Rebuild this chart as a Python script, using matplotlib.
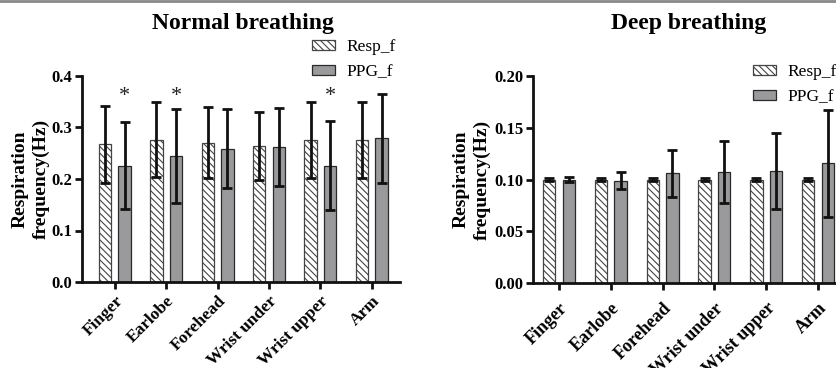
import matplotlib
matplotlib.use("Agg")
import matplotlib.pyplot as plt
import numpy as np
from matplotlib.lines import Line2D

categories = ["Finger", "Earlobe", "Forehead", "Wrist under", "Wrist upper", "Arm"]

normal_resp = [0.267, 0.276, 0.270, 0.264, 0.276, 0.276]
normal_resp_sd = [0.075, 0.073, 0.069, 0.066, 0.074, 0.074]
normal_ppg = [0.226, 0.244, 0.259, 0.262, 0.226, 0.279]
normal_ppg_sd = [0.085, 0.091, 0.077, 0.075, 0.087, 0.087]
normal_star = [True, True, False, False, True, False]

deep_resp = [0.100, 0.100, 0.100, 0.100, 0.100, 0.100]
deep_resp_sd = [0.0012, 0.0012, 0.0012, 0.0012, 0.0012, 0.0012]
deep_ppg = [0.100, 0.099, 0.1058, 0.107, 0.108, 0.1158]
deep_ppg_sd = [0.0025, 0.0085, 0.0227, 0.030, 0.0368, 0.0516]

series_labels = ["Resp_f", "PPG_f"]

plt.rcParams['font.family'] = ['Liberation Serif', 'DejaVu Serif']
plt.rcParams['hatch.color'] = '#555555'
plt.rcParams['hatch.linewidth'] = 0.8

fig = plt.figure(figsize=(8.37, 3.68), dpi=100)
W, H = 837.0, 368.0

ax1 = fig.add_axes([82 / W, 1 - 282 / H, 318 / W, 206 / H])
ax2 = fig.add_axes([533 / W, 1 - 283 / H, 312 / W, 207 / H])

ppg_color = '#9a9a9c'
edge = '#2a2a2a'
bw = 0.24
off = 0.19


def draw(ax, resp, resp_sd, ppg, ppg_sd, ylim, yticks, ytl, xlim, xpad, xfs):
    x = np.arange(len(categories))
    b1 = ax.bar(x - off, resp, bw, color='white', edgecolor='#444444', hatch='\\\\\\\\\\',
                linewidth=0.9, zorder=2, label=series_labels[0])
    b2 = ax.bar(x + off, ppg, bw, color=ppg_color, edgecolor=edge, linewidth=0.9, zorder=2,
                label=series_labels[1])
    ax.errorbar(x - off, resp, yerr=resp_sd, fmt='none', ecolor='#111111',
                elinewidth=2, capsize=3.5, capthick=2, zorder=3)
    ax.errorbar(x + off, ppg, yerr=ppg_sd, fmt='none', ecolor='#111111',
                elinewidth=2, capsize=3.5, capthick=2, zorder=3)
    ax.set_ylim(*ylim)
    ax.set_xlim(*xlim)
    ax.set_yticks(yticks)
    ax.set_yticklabels(ytl, fontsize=12, fontweight='bold')
    ax.set_xticks(x)
    ax.set_xticklabels(categories, rotation=45, ha='right', rotation_mode='anchor',
                       fontsize=xfs, fontweight='bold')
    for s in ['top', 'right']:
        ax.spines[s].set_visible(False)
    for s in ['left', 'bottom']:
        ax.spines[s].set_linewidth(2)
        ax.spines[s].set_color('#111111')
    ax.tick_params(axis='both', direction='out', length=5, width=2, color='#111111')
    ax.tick_params(axis='x', pad=xpad)
    ax.tick_params(axis='y', pad=2)
    return [b1, b2]


hd1 = draw(ax1, normal_resp, normal_resp_sd, normal_ppg, normal_ppg_sd,
           (0, 0.4), [0, 0.1, 0.2, 0.3, 0.4], ['0.0', '0.1', '0.2', '0.3', '0.4'],
           (-0.64, 5.55), 3, 12.5)
hd2 = draw(ax2, deep_resp, deep_resp_sd, deep_ppg, deep_ppg_sd,
           (0, 0.2), [0, 0.05, 0.10, 0.15, 0.20], ['0.00', '0.05', '0.10', '0.15', '0.20'],
           (-0.5, 5.52), 7, 13)

for i, s in enumerate(normal_star):
    if s:
        ax1.text(i + off, 0.36, '*', ha='center', va='center', fontsize=16, color='#222222')

ax1.set_ylabel('Respiration\nfrequency(Hz)', fontsize=14, fontweight='bold', linespacing=1.3)
ax1.yaxis.set_label_coords((50 - 82) / 318, 0.5)
ax2.set_ylabel('Respiration\nfrequency(Hz)', fontsize=14, fontweight='bold', linespacing=1.3)
ax2.yaxis.set_label_coords((491 - 533) / 312, 0.5)

fig.text(243 / W, 1 - 23 / H, 'Normal breathing', ha='center', va='center',
         fontsize=17, fontweight='bold')
fig.text(689 / W, 1 - 23 / H, 'Deep breathing', ha='center', va='center',
         fontsize=17, fontweight='bold')

ax1.legend(hd1, series_labels, loc='upper left', bbox_to_anchor=(312 / W, 1 - 39 / H),
           bbox_transform=fig.transFigure, frameon=False, fontsize=12.5, handlelength=1.3,
           handleheight=0.5, handletextpad=0.7, labelspacing=0.52, borderpad=0, borderaxespad=0)
ax2.legend(hd2, series_labels, loc='upper left', bbox_to_anchor=(753 / W, 1 - 64 / H),
           bbox_transform=fig.transFigure, frameon=False, fontsize=12.5, handlelength=1.3,
           handleheight=0.5, handletextpad=0.7, labelspacing=0.52, borderpad=0, borderaxespad=0)

fig.add_artist(Line2D([0, 1], [1 - 1 / H, 1 - 1 / H], transform=fig.transFigure,
                      color='#888888', linewidth=2))

fig.savefig('out.png', dpi=100)
